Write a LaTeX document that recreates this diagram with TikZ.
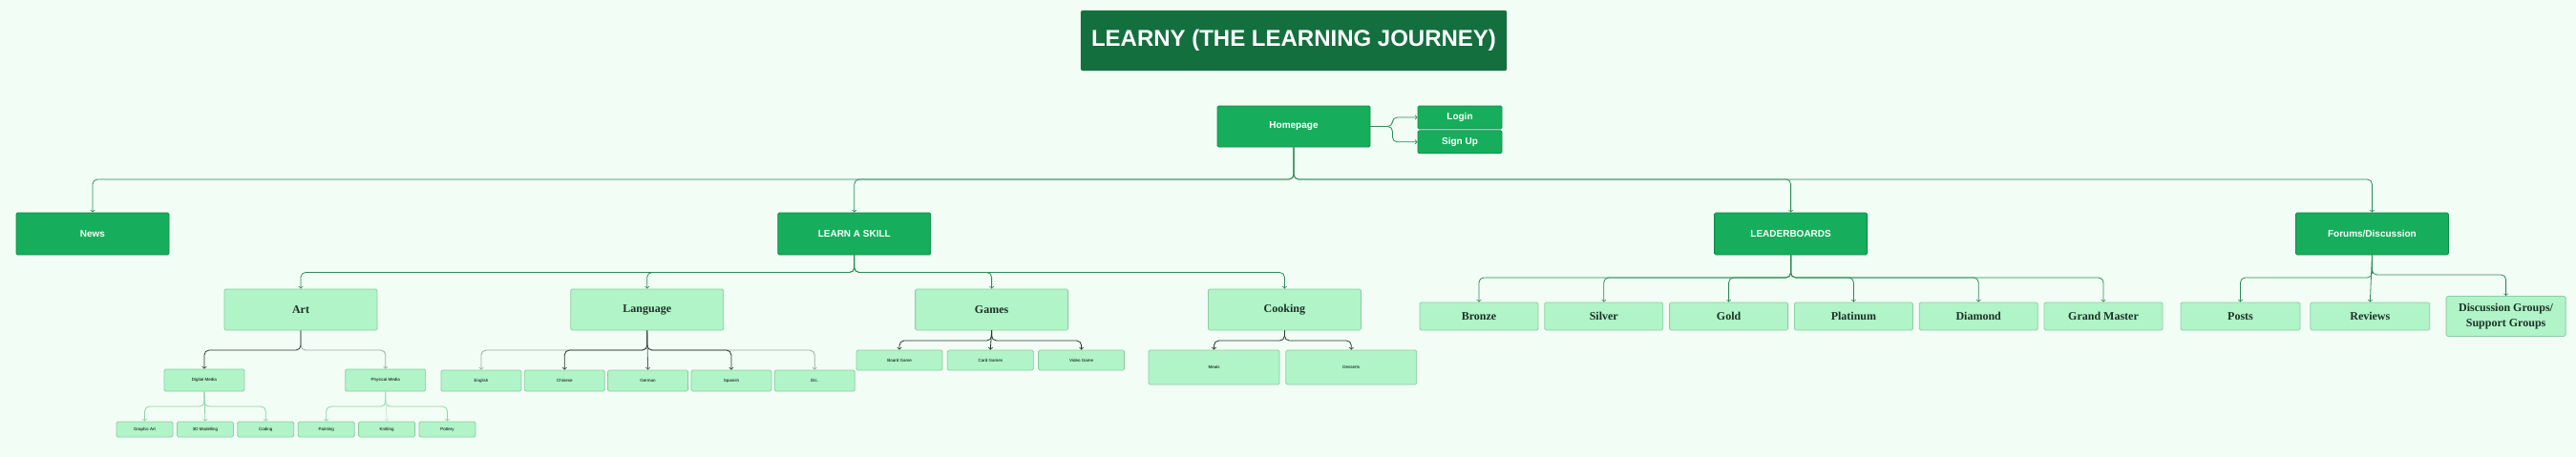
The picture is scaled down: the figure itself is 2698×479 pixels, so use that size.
\documentclass[tikz,border=0pt]{standalone}
\usepackage{fontspec}
\setmainfont{Liberation Serif}
\setsansfont{Liberation Sans}
\usetikzlibrary{positioning}
\definecolor{bgmint}{HTML}{F2FDF5}
\definecolor{titlegreen}{HTML}{146F3E}
\definecolor{maingreen}{HTML}{16AE5C}
\definecolor{mainedge}{HTML}{108A47}
\definecolor{palegreen}{HTML}{B0F4C8}
\definecolor{paleedge}{HTML}{8ECDA4}
\definecolor{linkgreen}{HTML}{2E8B57}
\definecolor{linkdark}{HTML}{22382B}
\definecolor{linkmid}{HTML}{4F6356}
\definecolor{linkgray}{HTML}{9BAA9F}
\definecolor{linklight}{HTML}{8FD3A7}
\definecolor{linkpale}{HTML}{C4EBD2}
\definecolor{inkdark}{HTML}{1E3026}
\begin{document}
\begin{tikzpicture}[x=1pt,y=-1pt]
	\tikzstyle{headbox} = [rectangle,fill=titlegreen,draw=titlegreen!85!white,text=white,rounded corners=1.5pt,inner sep=0pt,minimum width=446pt,minimum height=63pt,font=\sffamily\bfseries\fontsize{24}{28}\selectfont]
	\tikzstyle{pagebox} = [rectangle,fill=maingreen,draw=mainedge,line width=0.8pt,text=white,rounded corners=1.5pt,inner sep=0pt,minimum width=160pt,minimum height=44pt,font=\sffamily\bfseries\fontsize{10}{12}\selectfont]
	\tikzstyle{topic} = [rectangle,fill=palegreen,draw=paleedge,line width=0.8pt,text=inkdark,rounded corners=1.5pt,inner sep=0pt,minimum width=160pt,minimum height=43pt,font=\bfseries\fontsize{12}{16}\selectfont]
	\tikzstyle{itembox} = [rectangle,fill=palegreen,draw=paleedge,line width=0.8pt,text=black,rounded corners=1.5pt,inner sep=0pt,minimum width=84pt,minimum height=23pt,font=\sffamily\fontsize{4.5}{5}\selectfont]
	\tikzstyle{wire} = [->,line width=0.8pt,rounded corners=5pt]
	
	\fill[bgmint] (0,0) rectangle (2698,479);
	
	\node[headbox] (title) at (1355,42.5) {LEARNY (THE LEARNING JOURNEY)};
	\node[pagebox,minimum height=43pt] (home) at (1355,132.5) {Homepage};
	\node[pagebox,minimum width=88pt,minimum height=24pt] (login) at (1529,123) {Login};
	\node[pagebox,minimum width=88pt,minimum height=24pt,anchor=north] (signup) at ([yshift=-1pt]login.south) {Sign Up};
	
	\node[pagebox] (news) at (97,245) {News};
	\node[pagebox,anchor=west] (skill) at ([xshift=637pt]news.east) {LEARN A SKILL};
	\node[pagebox,anchor=west] (board) at ([xshift=820pt]skill.east) {LEADERBOARDS};
	\node[pagebox,anchor=west] (forum) at ([xshift=448pt]board.east) {Forums/Discussion};
	
	\node[topic] (art) at (315,324.5) {Art};
	\node[topic,anchor=west] (lang) at ([xshift=202pt]art.east) {Language};
	\node[topic,anchor=west] (games) at ([xshift=200pt]lang.east) {Games};
	\node[topic,anchor=west] (cook) at ([xshift=146pt]games.east) {Cooking};
	
	\node[itembox] (digital) at (214,398.5) {Digital Media};
	\node[itembox,anchor=west] (physical) at ([xshift=105pt]digital.east) {Physical Media};
	
	\node[itembox,minimum width=59pt,minimum height=16pt] (graphic) at (151.5,450) {Graphic Art};
	\node[itembox,minimum width=59pt,minimum height=16pt,anchor=west] (model) at ([xshift=3.6pt]graphic.east) {3D Modelling};
	\node[itembox,minimum width=59pt,minimum height=16pt,anchor=west] (coding) at ([xshift=3.6pt]model.east) {Coding};
	\node[itembox,minimum width=59pt,minimum height=16pt,anchor=west] (paint) at ([xshift=3.6pt]coding.east) {Painting};
	\node[itembox,minimum width=59pt,minimum height=16pt,anchor=west] (knit) at ([xshift=3.6pt]paint.east) {Knitting};
	\node[itembox,minimum width=59pt,minimum height=16pt,anchor=west] (pottery) at ([xshift=3.6pt]knit.east) {Pottery};
	
	\node[itembox,minimum height=22pt] (english) at (504,399) {English};
	\node[itembox,minimum height=22pt,anchor=west] (chinese) at ([xshift=2.5pt]english.east) {Chinese};
	\node[itembox,minimum height=22pt,anchor=west] (german) at ([xshift=2.5pt]chinese.east) {German};
	\node[itembox,minimum height=22pt,anchor=west] (spanish) at ([xshift=2.5pt]german.east) {Spanish};
	\node[itembox,minimum height=22pt,anchor=west] (etc) at ([xshift=2.5pt]spanish.east) {Etc.};
	
	\node[itembox,minimum width=90pt,minimum height=21pt] (boardgame) at (942,377.5) {Board Game};
	\node[itembox,minimum width=90pt,minimum height=21pt,anchor=west] (cardgame) at ([xshift=4.5pt]boardgame.east) {Card Games};
	\node[itembox,minimum width=90pt,minimum height=21pt,anchor=west] (videogame) at ([xshift=4.5pt]cardgame.east) {Video Game};
	
	\node[itembox,minimum width=137pt,minimum height=36pt] (meals) at (1271.5,385) {Meals};
	\node[itembox,minimum width=137pt,minimum height=36pt,anchor=west] (desserts) at ([xshift=6pt]meals.east) {Desserts};
	
	\node[topic,minimum width=124pt,minimum height=29pt] (bronze) at (1549,331.5) {Bronze};
	\node[topic,minimum width=124pt,minimum height=29pt,anchor=west] (silver) at ([xshift=6pt]bronze.east) {Silver};
	\node[topic,minimum width=124pt,minimum height=29pt,anchor=west] (gold) at ([xshift=6pt]silver.east) {Gold};
	\node[topic,minimum width=124pt,minimum height=29pt,anchor=west] (platinum) at ([xshift=6pt]gold.east) {Platinum};
	\node[topic,minimum width=124pt,minimum height=29pt,anchor=west] (diamond) at ([xshift=6pt]platinum.east) {Diamond};
	\node[topic,minimum width=124pt,minimum height=29pt,anchor=west] (master) at ([xshift=6pt]diamond.east) {Grand Master};
	
	\node[topic,minimum width=125pt,minimum height=29pt] (posts) at (2346.5,331.5) {Posts};
	\node[topic,minimum width=125pt,minimum height=29pt,anchor=west] (reviews) at ([xshift=10pt]posts.east) {Reviews};
	\node[topic,minimum width=125pt,minimum height=42pt,anchor=west,align=center] (groups) at ([xshift=16.5pt]reviews.east) {Discussion Groups/\\Support Groups};
	
	\coordinate (mainbus) at (0,188);
	\coordinate (skillbus) at (0,285.5);
	\coordinate (artbus) at (0,367);
	\coordinate (mediabus) at (0,426);
	\coordinate (langbus) at (0,367);
	\coordinate (gamebus) at (0,357);
	\coordinate (boardbus) at (0,291);
	\coordinate (groupbus) at (0,288);
	
	\draw[wire,linkgreen] (home.east) -- ++(23,0) |- (login.west);
	\draw[wire,linkgreen] (home.east) -- ++(23,0) |- (signup.west);
	
	\draw[wire,linkgreen] (home.south) -- (home.south |- mainbus) -| (news.north);
	\draw[wire,linkgreen] (home.south) -- (home.south |- mainbus) -| (skill.north);
	\draw[wire,linkgreen] (home.south) -- (home.south |- mainbus) -| (board.north);
	\draw[wire,linkgreen] (home.south) -- (home.south |- mainbus) -| (forum.north);
	
	\draw[wire,linkgreen] (skill.south) -- (skill.south |- skillbus) -| (art.north);
	\draw[wire,linkgreen] (skill.south) -- (skill.south |- skillbus) -| (lang.north);
	\draw[wire,linkgreen] (skill.south) -- (skill.south |- skillbus) -| (games.north);
	\draw[wire,linkgreen] (skill.south) -- (skill.south |- skillbus) -| (cook.north);
	
	\draw[wire,linkgray] (art.south) -- (art.south |- artbus) -| (physical.north);
	\draw[wire,linkdark] (art.south) -- (art.south |- artbus) -| (digital.north);
	
	\draw[wire,linklight] (digital.south) -- (digital.south |- mediabus) -| (graphic.north);
	\draw[wire,linklight] (digital.south) -- (model.north);
	\draw[wire,linklight] (digital.south) -- (digital.south |- mediabus) -| (coding.north);
	\draw[wire,linklight] (physical.south) -- (physical.south |- mediabus) -| (paint.north);
	\draw[wire,linklight] (physical.south) -- (physical.south |- mediabus) -| (pottery.north);
	\draw[wire,linkpale] (physical.south) -- (knit.north);
	
	\draw[wire,linkgray] (lang.south) -- (lang.south |- langbus) -| (english.north);
	\draw[wire,linkgray] (lang.south) -- (lang.south |- langbus) -| (etc.north);
	\draw[wire,linkdark] (lang.south) -- (lang.south |- langbus) -| (chinese.north);
	\draw[wire,linkdark] (lang.south) -- (lang.south |- langbus) -| (spanish.north);
	\draw[wire,linkmid] (lang.south) -- (german.north);
	
	\draw[wire,linkdark] (games.south) -- (games.south |- gamebus) -| (boardgame.north);
	\draw[wire,linkdark] (games.south) -- (cardgame.north);
	\draw[wire,linkdark] (games.south) -- (games.south |- gamebus) -| (videogame.north);
	\draw[wire,linkdark] (cook.south) -- (cook.south |- gamebus) -| (meals.north);
	\draw[wire,linkdark] (cook.south) -- (cook.south |- gamebus) -| (desserts.north);
	
	\draw[wire,linkgreen] (board.south) -- (board.south |- boardbus) -| (bronze.north);
	\draw[wire,linkgreen] (board.south) -- (board.south |- boardbus) -| (silver.north);
	\draw[wire,linkgreen] (board.south) -- (board.south |- boardbus) -| (gold.north);
	\draw[wire,linkgreen] (board.south) -- (board.south |- boardbus) -| (platinum.north);
	\draw[wire,linkgreen] (board.south) -- (board.south |- boardbus) -| (diamond.north);
	\draw[wire,linkgreen] (board.south) -- (board.south |- boardbus) -| (master.north);
	
	\draw[wire,linkgreen] (forum.south) -- (forum.south |- boardbus) -| (posts.north);
	\draw[wire,linkgreen] (forum.south) -- (reviews.north);
	\draw[wire,linkgreen] (forum.south) -- (forum.south |- groupbus) -| (groups.north);
	
\end{tikzpicture}
\end{document}
